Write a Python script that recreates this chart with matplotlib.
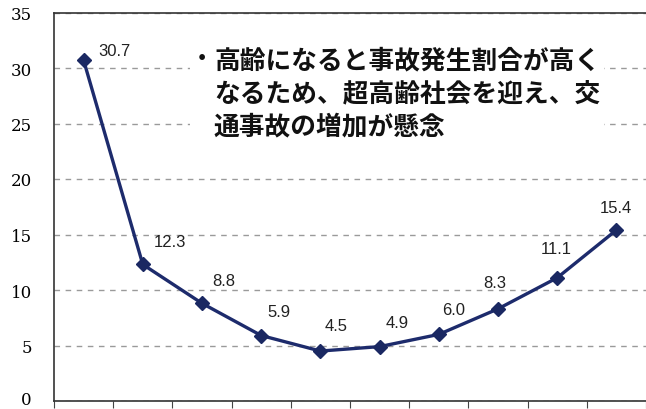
import matplotlib
matplotlib.use("Agg")
import matplotlib.pyplot as plt
from matplotlib.patches import Rectangle
from matplotlib.transforms import ScaledTranslation

# Data
categories = list(range(10))
values = [30.7, 12.3, 8.8, 5.9, 4.5, 4.9, 6.0, 8.3, 11.1, 15.4]
value_labels = ["30.7", "12.3", "8.8", "5.9", "4.5", "4.9", "6.0", "8.3", "11.1", "15.4"]
yticks = [0, 5, 10, 15, 20, 25, 30, 35]
note_lines = ["高齢になると事故発生割合が高く",
              "なるため、超高齢社会を迎え、交",
              "通事故の増加が懸念"]

# label offsets in pixels (dx, dy up)
label_offsets = [(31, 10), (27, 23), (22, 23), (18, 24), (16, 26),
                 (18, 24), (15, 25), (-3, 26), (-1, 29), (-1, 23)]

W, H = 646, 410
fig = plt.figure(figsize=(W / 100, H / 100), dpi=100)
ax = fig.add_axes([54 / W, 8 / H, 1 - 54 / W, 388.5 / H])

ax.plot(categories, values, color="#1d2b6c", lw=2.4, marker="D",
        markersize=6.8, markerfacecolor="#1a2862", markeredgecolor="#1a2862",
        zorder=3, clip_on=False)

ax.set_xlim(-0.5, 9.48)
ax.set_ylim(0, 35)
ax.set_yticks(yticks)
ax.set_yticklabels([str(t) for t in yticks], family="DejaVu Serif", fontsize=12)
ax.tick_params(axis="y", length=0, pad=16)
ax.set_xticks([c - 0.5 for c in categories] + [9.5])
ax.set_xticklabels([])
ax.tick_params(axis="x", length=5, direction="out", color="#444")

# keep the bottom "0" label inside the figure
lbl0 = ax.get_yticklabels()[0]
lbl0.set_transform(lbl0.get_transform() + ScaledTranslation(0, 3 / 100, fig.dpi_scale_trans))

ax.set_axisbelow(True)
ax.yaxis.grid(True, linestyle=(0, (4, 4)), color="#9a9a9a", lw=1)
for s in ["left", "bottom", "top"]:
    ax.spines[s].set_color("#333")
    ax.spines[s].set_linewidth(1.2)
ax.spines["right"].set_visible(False)

# data labels
for c, v, lab, (dx, dy) in zip(categories, values, value_labels, label_offsets):
    ax.annotate(lab, (c, v), xytext=(dx * 0.72, dy * 0.72), textcoords="offset points",
                ha="center", va="center", fontsize=12, family="Liberation Sans",
                color="#222222", zorder=4)

# white box behind note
ax.add_patch(Rectangle((190 / W, 1 - 145 / H), (604 - 190) / W, (145 - 40) / H,
                       transform=fig.transFigure, facecolor="white",
                       edgecolor="none", zorder=1))

fig.text(202 / W, 1 - 60 / H, "・", fontsize=16, family=["Noto Sans CJK JP", "DejaVu Sans"],
         fontweight="bold", ha="center", va="center", color="#111")
for i, line in enumerate(note_lines):
    fig.text(214 / W, 1 - (61 + 33 * i) / H, line, fontsize=18.5,
             family=["Noto Sans CJK JP", "DejaVu Sans"], fontweight="bold",
             ha="left", va="center", color="#111")

fig.savefig("out.png", dpi=100)
